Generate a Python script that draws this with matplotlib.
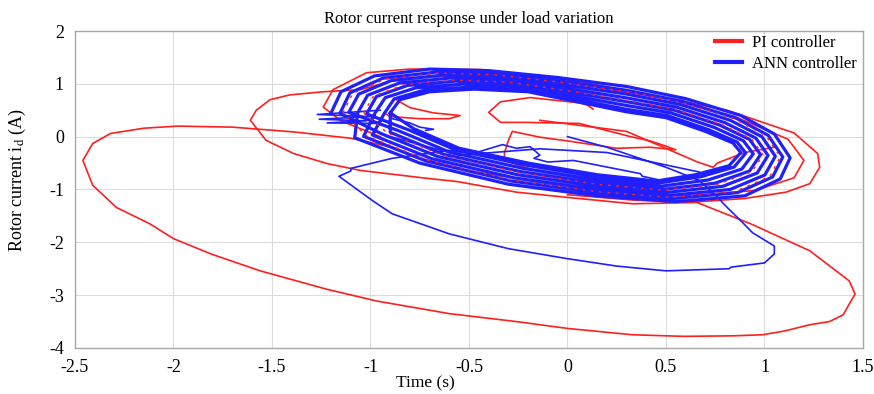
import matplotlib
matplotlib.use('Agg')
import matplotlib.pyplot as plt
from matplotlib.lines import Line2D

plt.rcParams['font.family'] = ['Liberation Serif', 'DejaVu Serif']
plt.rcParams['mathtext.fontset'] = 'stix'

# ---------------- data ----------------
x_ticks = [-2.5, -2, -1.5, -1, -0.5, 0, 0.5, 1, 1.5]
x_tick_labels = ['-2.5', '-2', '-1.5', '-1', '-0.5', '0', '0.5', '1', '1.5']
y_ticks = [-4, -3, -2, -1, 0, 1, 2]
y_tick_labels = ['-4', '-3', '-2', '-1', '0', '1', '2']

# PI controller: large transient loop, medium loop and outer ring
pi_main_x = [0.0, 0.33, 0.66, 0.93, 1.23, 1.43, 1.46, 1.43, 1.40, 1.33, 1.23, 1.10, 0.99, 0.84, 0.59,
             0.33, 0.0, -0.26, -0.60, -0.97, -1.22, -1.56, -1.81, -2.00, -2.12, -2.29, -2.41, -2.46,
             -2.41, -2.32, -2.15, -1.98, -1.70, -1.39, -1.10, -0.89, -0.76, -0.51, -0.09, 0.30, 0.60,
             0.95, 1.15, 1.20, 1.12, 0.85, 0.50, 0.0, -0.45, -0.85, -1.05, -1.24, -1.41, -1.51, -1.58,
             -1.61, -1.53, -1.39, -1.22, -1.05, -0.71, -0.56, -0.26, 0.0, 0.33, 0.60, 0.90, 1.11, 1.23,
             1.28, 1.27, 1.15, 0.81, 0.48, 0.0, -0.44, -0.80, -1.02, -1.19, -1.24, -1.15, -0.95]
pi_main_y = [-1.10, -1.20, -1.25, -1.65, -2.16, -2.73, -2.98, -3.17, -3.37, -3.50, -3.56, -3.68, -3.75,
             -3.77, -3.78, -3.75, -3.63, -3.50, -3.35, -3.11, -2.89, -2.54, -2.22, -1.93, -1.65, -1.34,
             -0.92, -0.45, -0.13, 0.06, 0.16, 0.20, 0.18, 0.09, -0.03, -0.20, -0.39, -0.64, -0.89, -1.05,
             -1.12, -1.02, -0.78, -0.45, -0.05, 0.38, 0.72, 1.02, 1.18, 1.10, 0.89, 0.85, 0.79, 0.70,
             0.50, 0.31, -0.07, -0.32, -0.51, -0.64, -0.79, -0.85, -1.05, -1.15, -1.27, -1.25, -1.17,
             -1.05, -0.89, -0.58, -0.32, 0.07, 0.50, 0.75, 1.08, 1.27, 1.28, 1.21, 0.89, 0.56, 0.30, 0.0]

# PI controller: rings inside the steady-state band
pi_ring_x = [
    [-1.14, -1.09, -0.924, -0.655, -0.36, -0.03, 0.30, 0.58, 0.844, 1.008, 1.08, 1.028, 0.85, 0.53, 0.15, -0.28, -0.71, -1.02],
    [-1.035, -0.985, -0.826, -0.576, -0.29, 0.005, 0.30, 0.545, 0.781, 0.9345, 0.9925, 0.937, 0.7625, 0.495, 0.15, -0.245, -0.64, -0.915],
]
pi_ring_y = [
    [0.45, 0.82, 1.09, 1.204, 1.17, 1.028, 0.854, 0.648, 0.34, 0.016, -0.38, -0.75, -1.04, -1.152, -1.04, -0.82, -0.444, 0.014],
    [0.45, 0.7675, 0.985, 1.071, 1.03, 0.867, 0.686, 0.522, 0.235, -0.0435, -0.345, -0.6625, -0.90, -1.0155, -0.90, -0.68, -0.346, 0.0735],
]

# PI controller: small inner loop, inner "C" curve and right inner line
pi_small_x = [-0.87, -0.80, -0.68, -0.545, -0.60, -0.75, -0.90, -0.93]
pi_small_y = [0.70, 0.55, 0.45, 0.40, 0.34, 0.34, 0.38, 0.45]
pi_c_x = [0.13, 0.10, 0.06, -0.19, -0.34, -0.40, -0.34, -0.21, 0.06, 0.32, 0.42, 0.50, 0.55, 0.42, 0.25,
          0.0, -0.14, -0.28, -0.30, -0.32, -0.32, -0.20]
pi_c_y = [0.52, 0.60, 0.64, 0.74, 0.66, 0.46, 0.27, 0.27, 0.25, 0.0, -0.08, -0.18, -0.25, -0.20, -0.22,
          -0.08, -0.01, 0.10, -0.07, -0.31, -0.45, -0.60]
pi_right_x = [-0.14, 0.30, 0.66, 0.74, 0.76, 0.90, 1.05]
pi_right_y = [0.31, 0.10, -0.48, -0.58, -0.50, -0.30, -0.20]

# ANN controller: transient from the origin
ann_start_x = [0.0, 0.20, 0.50, 0.67, 0.75, 0.80, 0.89, 0.94, 1.05, 1.05, 1.00, 0.83, 0.82, 0.50, 0.25,
               0.0, -0.30, -0.60, -0.89, -0.99, -1.16, -1.10, -1.10, -0.89, -0.60, -0.48, -0.33, -0.26,
               -0.19, -0.14, -0.17, -0.10, 0.03, 0.37, 0.38, 0.48, 0.70, 0.67, 0.20, -0.14, -0.55, -0.90]
ann_start_y = [0.0, -0.20, -0.58, -0.83, -1.10, -1.30, -1.63, -1.82, -2.07, -2.22, -2.39, -2.47, -2.50,
               -2.54, -2.45, -2.31, -2.12, -1.84, -1.46, -1.21, -0.75, -0.65, -0.60, -0.41, -0.26, -0.32,
               -0.15, -0.22, -0.19, -0.35, -0.41, -0.48, -0.45, -0.70, -0.75, -0.83, -0.75, -0.67, -0.30,
               -0.23, -0.35, 0.0]

# ANN controller: steady-state loops of the dense band
ann_loops_x = [
    [-1.20, -1.15, -0.98, -0.70, -0.40, -0.05, 0.30, 0.60, 0.88, 1.05, 1.13, 1.08, 0.90, 0.55, 0.15, -0.30, -0.75, -1.08],
    [-1.065, -1.015, -0.854, -0.599, -0.31, -0.005, 0.30, 0.555, 0.799, 0.956, 1.018, 0.963, 0.788, 0.505, 0.15, -0.255, -0.66, -0.945],
    [-1.155, -1.105, -0.938, -0.666, -0.37, -0.035, 0.30, 0.585, 0.853, 1.019, 1.093, 1.041, 0.863, 0.535, 0.15, -0.285, -0.72, -1.035],
    [-0.975, -0.925, -0.77, -0.531, -0.25, 0.025, 0.30, 0.525, 0.745, 0.893, 0.943, 0.885, 0.713, 0.475, 0.15, -0.225, -0.60, -0.855],
    [-1.11, -1.06, -0.896, -0.633, -0.34, -0.02, 0.30, 0.57, 0.826, 0.987, 1.055, 1.002, 0.825, 0.52, 0.15, -0.27, -0.69, -0.99],
    [-0.93, -0.88, -0.728, -0.498, -0.22, 0.04, 0.30, 0.51, 0.718, 0.861, 0.905, 0.846, 0.675, 0.46, 0.15, -0.21, -0.57, -0.81],
    [-1.02, -0.97, -0.812, -0.565, -0.28, 0.01, 0.30, 0.54, 0.772, 0.924, 0.98, 0.924, 0.75, 0.49, 0.15, -0.24, -0.63, -0.90],
    [-0.90, -0.85, -0.70, -0.475, -0.20, 0.05, 0.30, 0.50, 0.70, 0.84, 0.88, 0.82, 0.65, 0.45, 0.15, -0.20, -0.55, -0.78],
]
ann_loops_y = [
    [0.45, 0.85, 1.15, 1.28, 1.25, 1.12, 0.95, 0.72, 0.40, 0.05, -0.40, -0.80, -1.12, -1.23, -1.12, -0.90, -0.50, -0.02],
    [0.45, 0.783, 1.015, 1.109, 1.07, 0.913, 0.734, 0.558, 0.265, -0.027, -0.355, -0.688, -0.94, -1.055, -0.94, -0.72, -0.374, 0.057],
    [0.44, 0.828, 1.105, 1.223, 1.19, 1.051, 0.878, 0.666, 0.355, 0.025, -0.385, -0.763, -1.06, -1.172, -1.06, -0.84, -0.458, 0.006],
    [0.46, 0.738, 0.925, 0.995, 0.95, 0.775, 0.59, 0.45, 0.175, -0.078, -0.325, -0.613, -0.82, -0.938, -0.82, -0.60, -0.29, 0.108],
    [0.46, 0.805, 1.06, 1.166, 1.13, 0.982, 0.806, 0.612, 0.31, -0.001, -0.37, -0.725, -1.00, -1.113, -1.00, -0.78, -0.416, 0.031],
    [0.44, 0.715, 0.88, 0.938, 0.89, 0.706, 0.518, 0.396, 0.13, -0.103, -0.31, -0.575, -0.76, -0.879, -0.76, -0.54, -0.248, 0.133],
    [0.43, 0.76, 0.97, 1.052, 1.01, 0.844, 0.662, 0.504, 0.22, -0.052, -0.34, -0.65, -0.88, -0.996, -0.88, -0.66, -0.332, 0.082],
    [0.45, 0.70, 0.85, 0.90, 0.85, 0.66, 0.47, 0.36, 0.10, -0.12, -0.30, -0.55, -0.72, -0.84, -0.72, -0.50, -0.22, 0.15],
]

# ANN controller: jagged spikes at the left and the short inner tail
ann_spikes_x = [-0.95, -1.27, -1.00, -1.26, -1.02, -1.22, -0.95]
ann_spikes_y = [0.50, 0.42, 0.38, 0.33, 0.30, 0.26, 0.25]
ann_tail_x = [-0.90, -0.80, -0.75, -0.68, -0.72]
ann_tail_y = [0.35, 0.26, 0.18, 0.14, 0.12]

# ---------------- drawing ----------------
RED = '#ff1f1f'
BLUE = '#1f1fff'
LW = 1.2

fig = plt.figure(figsize=(8.74, 3.94), dpi=100)
ax = fig.add_axes([0.0858, 0.1168, 0.9016, 0.8045])

ax.plot(pi_main_x, pi_main_y, color=RED, lw=LW)
ax.plot(pi_small_x, pi_small_y, color=RED, lw=LW)
ax.plot(pi_c_x, pi_c_y, color=RED, lw=LW)
ax.plot(pi_right_x, pi_right_y, color=RED, lw=LW)

ax.plot(ann_start_x, ann_start_y, color=BLUE, lw=LW)
band_x, band_y = [], []
for lx, ly in zip(ann_loops_x, ann_loops_y):
    band_x += lx
    band_y += ly
band_x += ann_loops_x[-1][:1]
band_y += ann_loops_y[-1][:1]
ax.plot(band_x, band_y, color=BLUE, lw=2.3, solid_joinstyle='round')
ax.plot(ann_spikes_x, ann_spikes_y, color=BLUE, lw=LW)
ax.plot(ann_tail_x, ann_tail_y, color=BLUE, lw=LW)

# PI rings overlapping the band show through as red dashes
for rx, ry in zip(pi_ring_x, pi_ring_y):
    ax.plot(rx + rx[:1], ry + ry[:1], color=RED, lw=1.0, ls=(0, (2, 4)), zorder=3)

ax.set_xlim(-2.5, 1.5)
ax.set_ylim(-4, 2)
ax.set_xticks(x_ticks)
ax.set_xticklabels(x_tick_labels)
ax.set_yticks(y_ticks)
ax.set_yticklabels(y_tick_labels)
ax.tick_params(length=0, pad=8, labelsize=13)
ax.grid(True, color='#dcdcdc', lw=0.8)
ax.set_axisbelow(True)
for s in ax.spines.values():
    s.set_color('#a8a8a8')
    s.set_linewidth(1.0)

ax.set_title('Rotor current response under load variation', fontsize=12, pad=6)
ax.set_xlabel('Time (s)', fontsize=12.5)
ax.xaxis.set_label_coords(0.445, -0.088)
ax.set_ylabel(r'Rotor current i$_{\mathrm{d}}$ (A)', fontsize=13)
ax.yaxis.set_label_coords(-0.06, 0.53)

handles = [Line2D([], [], color=RED, lw=3), Line2D([], [], color=BLUE, lw=3)]
ax.legend(handles, ['PI controller', 'ANN controller'], loc='upper left',
          bbox_to_anchor=(0.80, 1.02), frameon=False, fontsize=12,
          handlelength=1.6, handletextpad=0.6, labelspacing=0.3, borderaxespad=0.2)

fig.savefig('out.png', dpi=100)
